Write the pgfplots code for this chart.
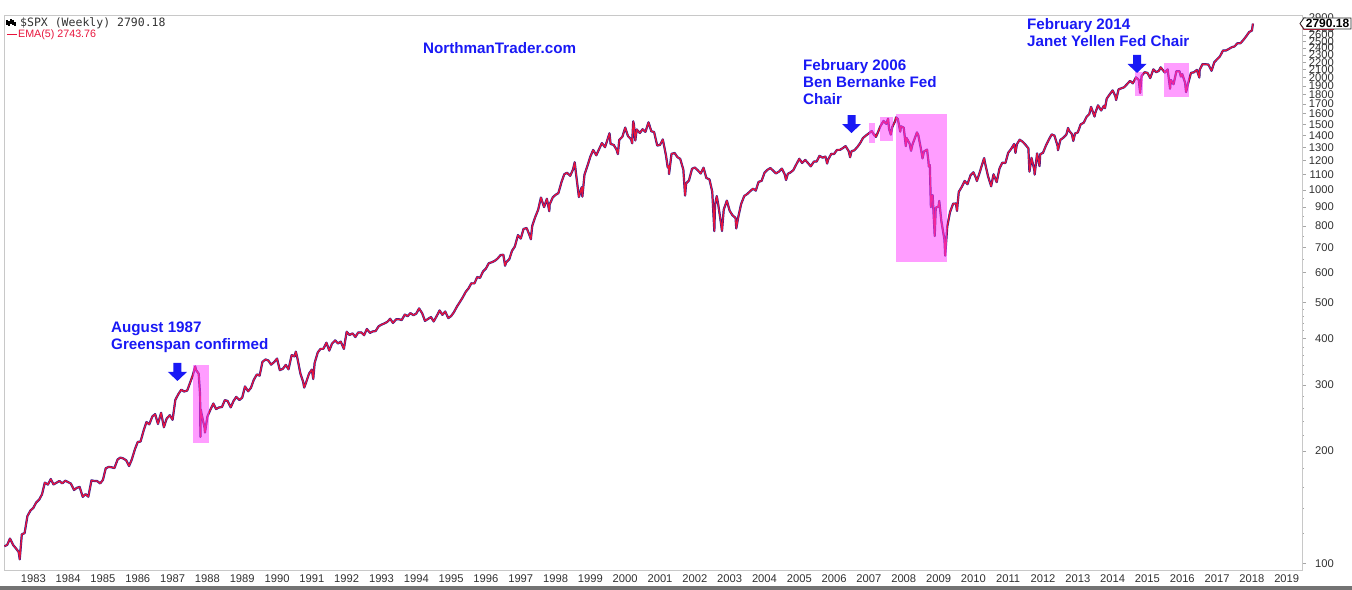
\documentclass[border=0pt]{standalone}
\usepackage{pgfplots}
\usepackage{pgfplotstable}
\pgfplotsset{compat=1.18}
\usepackage{fontspec}
\setmainfont{Liberation Sans}
\newfontfamily\monofont{DejaVu Sans Mono}
\definecolor{annblue}{RGB}{25,25,245}
\definecolor{pxblue}{RGB}{30,30,150}
\definecolor{emared}{RGB}{232,20,60}
\definecolor{hl}{RGB}{255,60,255}
\definecolor{axgray}{RGB}{200,200,200}
\definecolor{lblgray}{RGB}{50,50,50}

\pgfplotstableread{
t v
1982.17 111.0
1982.25 111.96
1982.33 116.4
1982.42 111.9
1982.50 109.6
1982.58 107.1
1982.61 102.4
1982.67 119.5
1982.75 120.4
1982.83 133.7
1982.92 138.5
1983.00 140.6
1983.08 145.3
1983.17 148.1
1983.25 152.96
1983.33 164.4
1983.42 162.4
1983.50 168.1
1983.58 162.6
1983.67 164.4
1983.75 166.1
1983.83 163.6
1983.92 166.4
1984.00 164.9
1984.08 163.4
1984.17 157.1
1984.25 159.2
1984.33 160.1
1984.42 150.6
1984.50 153.2
1984.58 150.7
1984.67 166.7
1984.75 166.1
1984.83 166.1
1984.92 163.6
1985.00 167.2
1985.08 179.6
1985.17 181.2
1985.25 180.7
1985.33 179.8
1985.42 189.6
1985.50 191.9
1985.58 190.9
1985.67 188.6
1985.75 182.1
1985.83 189.8
1985.92 202.2
1986.00 211.3
1986.08 211.8
1986.17 226.9
1986.25 238.9
1986.33 235.5
1986.42 247.4
1986.50 250.8
1986.58 236.1
1986.67 252.9
1986.75 231.3
1986.83 244.0
1986.92 249.2
1987.00 242.2
1987.08 274.1
1987.17 284.2
1987.25 291.7
1987.33 288.4
1987.42 290.1
1987.50 304.0
1987.58 318.7
1987.65 336.8
1987.67 329.8
1987.75 321.8
1987.79 282.7
1987.80 218.0
1987.81 258.4
1987.83 251.8
1987.92 230.3
1987.93 223.9
1988.00 247.1
1988.08 257.1
1988.17 267.8
1988.25 258.9
1988.33 261.3
1988.42 262.2
1988.50 273.5
1988.58 272.0
1988.67 261.5
1988.75 271.9
1988.83 279.0
1988.92 273.7
1989.00 277.7
1989.08 297.5
1989.17 288.9
1989.25 294.9
1989.33 309.6
1989.42 320.5
1989.50 318.0
1989.58 346.1
1989.67 351.5
1989.75 349.2
1989.83 340.4
1989.92 346.0
1990.00 353.4
1990.08 329.1
1990.17 331.9
1990.25 339.9
1990.33 330.8
1990.42 361.2
1990.50 358.0
1990.54 368.9
1990.58 356.2
1990.67 322.6
1990.75 306.1
1990.78 295.5
1990.83 304.0
1990.92 322.2
1991.00 330.2
1991.04 311.5
1991.08 343.9
1991.17 367.1
1991.25 375.2
1991.33 375.3
1991.42 389.8
1991.50 371.2
1991.58 387.8
1991.67 395.4
1991.75 387.9
1991.83 392.5
1991.92 375.2
1992.00 417.1
1992.08 408.8
1992.17 412.7
1992.25 403.7
1992.33 415.0
1992.42 415.4
1992.50 408.1
1992.58 424.2
1992.67 414.0
1992.75 417.8
1992.83 418.7
1992.92 431.4
1993.00 435.7
1993.08 438.8
1993.17 443.4
1993.25 451.7
1993.33 440.2
1993.42 450.2
1993.50 450.5
1993.58 448.1
1993.67 463.6
1993.75 458.9
1993.83 467.8
1993.92 461.8
1994.00 466.5
1994.08 481.6
1994.17 467.1
1994.25 445.8
1994.33 450.9
1994.42 456.5
1994.50 444.3
1994.58 458.3
1994.67 475.5
1994.75 462.7
1994.83 472.4
1994.92 453.7
1995.00 459.3
1995.08 470.4
1995.17 487.4
1995.25 500.7
1995.33 514.7
1995.42 533.4
1995.50 544.8
1995.58 562.1
1995.67 561.9
1995.75 584.4
1995.83 581.5
1995.92 605.4
1996.00 615.9
1996.08 636.0
1996.17 640.4
1996.25 645.5
1996.33 654.2
1996.42 669.1
1996.50 670.6
1996.55 626.7
1996.58 640.0
1996.67 652.0
1996.75 687.3
1996.83 705.3
1996.92 757.0
1997.00 740.7
1997.08 786.2
1997.17 790.8
1997.25 757.1
1997.29 737.7
1997.33 801.3
1997.42 848.3
1997.50 885.1
1997.58 954.3
1997.67 899.5
1997.75 947.3
1997.82 877.0
1997.83 914.6
1997.92 955.4
1998.00 970.4
1998.08 980.3
1998.17 1049.3
1998.25 1101.8
1998.33 1111.8
1998.42 1090.8
1998.50 1133.8
1998.55 1186.8
1998.58 1120.7
1998.67 957.3
1998.75 1017.0
1998.77 959.4
1998.83 1098.7
1998.92 1163.6
1999.00 1229.2
1999.08 1279.6
1999.17 1238.3
1999.25 1286.4
1999.33 1335.2
1999.42 1301.8
1999.50 1372.7
1999.55 1418.8
1999.58 1328.7
1999.67 1320.4
1999.75 1282.7
1999.79 1247.4
1999.83 1362.9
1999.92 1388.9
2000.00 1469.3
2000.08 1394.5
2000.17 1366.4
2000.20 1333.4
2000.23 1527.5
2000.25 1498.6
2000.29 1356.6
2000.33 1452.4
2000.42 1420.6
2000.50 1454.6
2000.58 1430.8
2000.67 1517.7
2000.75 1436.5
2000.83 1429.4
2000.92 1315.0
2001.00 1320.3
2001.08 1366.0
2001.17 1239.9
2001.22 1150.5
2001.25 1160.3
2001.26 1103.3
2001.33 1249.5
2001.42 1255.8
2001.50 1224.4
2001.58 1211.2
2001.67 1133.6
2001.72 965.8
2001.75 1040.9
2001.83 1059.8
2001.92 1139.5
2002.00 1148.1
2002.08 1130.2
2002.17 1106.7
2002.25 1147.4
2002.33 1076.9
2002.42 1067.1
2002.50 989.8
2002.56 776.0
2002.58 911.6
2002.63 962.7
2002.67 916.1
2002.75 815.3
2002.78 776.8
2002.83 885.8
2002.92 936.3
2003.00 879.8
2003.08 855.7
2003.17 841.2
2003.19 788.9
2003.25 848.2
2003.33 916.9
2003.42 963.6
2003.50 974.5
2003.58 990.3
2003.67 1008.0
2003.75 996.0
2003.83 1050.7
2003.92 1058.2
2004.00 1111.9
2004.08 1131.1
2004.17 1144.9
2004.25 1126.2
2004.33 1107.3
2004.42 1120.7
2004.50 1140.8
2004.58 1101.7
2004.62 1063.2
2004.67 1104.2
2004.75 1114.6
2004.83 1130.2
2004.92 1173.8
2005.00 1211.9
2005.08 1181.3
2005.17 1203.6
2005.25 1180.6
2005.33 1156.9
2005.42 1191.5
2005.50 1191.3
2005.58 1234.2
2005.67 1220.3
2005.75 1228.8
2005.80 1177.0
2005.83 1207.0
2005.92 1249.5
2006.00 1248.3
2006.08 1280.1
2006.17 1280.7
2006.25 1294.8
2006.33 1310.6
2006.42 1270.1
2006.46 1223.7
2006.50 1270.2
2006.58 1276.7
2006.67 1303.8
2006.75 1335.9
2006.83 1377.9
2006.92 1400.6
2007.00 1418.3
2007.08 1438.2
2007.16 1399.0
2007.17 1406.8
2007.20 1387.0
2007.25 1420.9
2007.33 1482.4
2007.42 1530.6
2007.50 1503.4
2007.55 1553.0
2007.58 1455.3
2007.63 1406.7
2007.67 1474.0
2007.75 1526.8
2007.78 1565.2
2007.83 1549.4
2007.90 1433.0
2007.92 1481.1
2008.00 1468.4
2008.06 1310.5
2008.08 1378.6
2008.17 1330.6
2008.21 1273.4
2008.25 1322.7
2008.33 1385.6
2008.38 1426.6
2008.42 1400.4
2008.50 1280.0
2008.54 1214.9
2008.58 1267.4
2008.67 1282.8
2008.71 1192.0
2008.72 1156.0
2008.75 1166.4
2008.78 899.2
2008.79 946.0
2008.83 968.8
2008.89 752.4
2008.92 896.2
2009.00 903.3
2009.02 934.7
2009.08 825.9
2009.17 735.1
2009.19 666.8
2009.25 797.9
2009.33 872.8
2009.42 919.1
2009.50 919.3
2009.53 879.0
2009.58 987.5
2009.67 1020.6
2009.75 1057.1
2009.83 1036.2
2009.92 1095.6
2010.00 1115.1
2010.08 1073.9
2010.10 1056.7
2010.17 1104.5
2010.25 1169.4
2010.31 1217.0
2010.33 1186.7
2010.42 1089.4
2010.50 1030.7
2010.51 1022.6
2010.58 1101.6
2010.67 1049.3
2010.75 1141.2
2010.83 1183.3
2010.92 1180.6
2011.00 1257.6
2011.08 1286.1
2011.17 1327.2
2011.21 1256.9
2011.25 1325.8
2011.33 1363.6
2011.42 1345.2
2011.50 1320.6
2011.58 1292.3
2011.61 1119.5
2011.67 1218.9
2011.75 1131.4
2011.76 1099.2
2011.83 1253.3
2011.90 1158.7
2011.92 1247.0
2012.00 1257.6
2012.08 1312.4
2012.17 1365.7
2012.25 1408.5
2012.33 1397.9
2012.42 1310.3
2012.43 1278.0
2012.50 1362.2
2012.58 1379.3
2012.67 1406.6
2012.72 1465.8
2012.75 1440.7
2012.83 1412.2
2012.87 1353.3
2012.92 1416.2
2013.00 1426.2
2013.08 1498.1
2013.17 1514.7
2013.25 1569.2
2013.33 1597.6
2013.38 1669.2
2013.42 1630.7
2013.48 1573.0
2013.50 1606.3
2013.58 1685.7
2013.67 1633.0
2013.75 1681.6
2013.78 1655.5
2013.83 1756.5
2013.92 1805.8
2014.00 1848.4
2014.08 1782.6
2014.10 1741.9
2014.17 1859.5
2014.25 1872.3
2014.33 1884.0
2014.42 1923.6
2014.50 1960.2
2014.58 1930.7
2014.67 2003.4
2014.75 1972.3
2014.79 1820.0
2014.83 2018.1
2014.92 2067.6
2015.00 2058.9
2015.08 1995.0
2015.17 2104.5
2015.25 2067.9
2015.33 2085.5
2015.38 2130.8
2015.42 2107.4
2015.50 2063.1
2015.58 2103.8
2015.65 1867.6
2015.67 1972.2
2015.75 1920.0
2015.83 2079.4
2015.92 2080.4
2015.96 2012.4
2016.00 2043.9
2016.08 1940.2
2016.11 1829.1
2016.17 1932.2
2016.25 2059.7
2016.33 2065.3
2016.42 2097.0
2016.49 2000.5
2016.50 2098.9
2016.58 2173.6
2016.67 2171.0
2016.75 2168.3
2016.84 2085.2
2016.92 2198.8
2017.00 2238.8
2017.08 2278.9
2017.17 2363.6
2017.25 2362.7
2017.33 2384.2
2017.42 2411.8
2017.50 2423.4
2017.58 2470.3
2017.67 2471.7
2017.75 2519.4
2017.83 2575.3
2017.92 2647.6
2018.00 2673.6
2018.03 2790.2
}\spx

\begin{document}
\begin{tikzpicture}
\useasboundingbox (-4bp,-20bp) rectangle (1348bp,570bp);
\begin{axis}[
  at={(0,0)}, anchor=south west, scale only axis,
  width=1298bp, height=555bp,
  xmin=1982.158, xmax=2019.439,
  ymode=log, ymin=95.9, ymax=2943,
  axis line style={axgray, line width=0.8bp},
  xtick={1983,1984,1985,1986,1987,1988,1989,1990,1991,1992,1993,1994,1995,1996,1997,1998,1999,2000,2001,2002,2003,2004,2005,2006,2007,2008,2009,2010,2011,2012,2013,2014,2015,2016,2017,2018,2019},
  xticklabels={1983,1984,1985,1986,1987,1988,1989,1990,1991,1992,1993,1994,1995,1996,1997,1998,1999,2000,2001,2002,2003,2004,2005,2006,2007,2008,2009,2010,2011,2012,2013,2014,2015,2016,2017,2018,2019},
  xtick style={draw=none},
  xticklabel style={font=\fontsize{11.2bp}{13bp}\selectfont, text=lblgray, inner sep=0pt, anchor=north, yshift=0bp},
  ytick={100,200,300,400,500,600,700,800,900,1000,1100,1200,1300,1400,1500,1600,1700,1800,1900,2000,2100,2200,2300,2400,2500,2600,2700,2800,2900},
  yticklabels={100,200,300,400,500,600,700,800,900,1000,1100,1200,1300,1400,1500,1600,1700,1800,1900,2000,2100,2200,2300,2400,2500,2600,2700,2800,2900},
  minor ytick={120,140,160,180,220,240,260,280,320,340,360,380,420,440,460,480,550,650,750,850,950},
  ytick pos=right,
  yticklabel pos=right,
  yticklabel style={font=\fontsize{11.2bp}{13bp}\selectfont, text=lblgray, inner sep=0pt, anchor=east, xshift=28bp},
  ytick style={gray!70, line width=0.6bp},
  minor tick style={gray!50, line width=0.5bp},
  tick align=outside, major tick length=4bp, minor tick length=2bp,
]
\addplot[pxblue, line width=2.2bp, line join=round] table[x=t,y=v]{\spx};
\addplot[emared, line width=1.3bp, line join=round] table[x=t,y=v]{\spx};
\coordinate (r1a) at (axis cs:1987.587,210.1);
\coordinate (r1b) at (axis cs:1988.046,339.8);
\coordinate (r2a) at (axis cs:2007.003,1336);
\coordinate (r2b) at (axis cs:2007.175,1512);
\coordinate (r3a) at (axis cs:2007.319,1353);
\coordinate (r3b) at (axis cs:2007.692,1569);
\coordinate (r4a) at (axis cs:2007.778,641.5);
\coordinate (r4b) at (axis cs:2009.243,1598);
\coordinate (r5a) at (axis cs:2014.643,1786);
\coordinate (r5b) at (axis cs:2014.873,2071);
\coordinate (r6a) at (axis cs:2015.476,1775);
\coordinate (r6b) at (axis cs:2016.194,2189);
\coordinate (a1) at (axis cs:1987.14,307.8);
\coordinate (a2) at (axis cs:2006.50,1421);
\coordinate (a3) at (axis cs:2014.70,2058);
\end{axis}
\foreach \n in {1,...,6}
  \fill[hl, fill opacity=0.5] (r\n a) rectangle (r\n b);
\foreach \n in {1,2,3}
  \fill[annblue] (a\n) -- ++(-9.5bp,9bp) -- ++(5.5bp,0) -- ++(0,9bp) -- ++(8bp,0) -- ++(0,-9bp) -- ++(5.5bp,0) -- cycle;
\tikzset{ann/.style={anchor=base west, inner sep=0pt, text=annblue, font=\fontsize{15.2bp}{17bp}\selectfont\bfseries}}
\node[ann] at (107bp,237.7bp) {August 1987};
\node[ann] at (107bp,220.7bp) {Greenspan confirmed};
\node[ann] at (419bp,516bp) {NorthmanTrader.com};
\node[ann] at (799bp,499.3bp) {February 2006};
\node[ann] at (799bp,482.3bp) {Ben Bernanke Fed};
\node[ann] at (799bp,465bp) {Chair};
\node[ann] at (1023bp,540bp) {February 2014};
\node[ann] at (1023bp,523.7bp) {Janet Yellen Fed Chair};
% legend
\foreach \x/\a/\b in {3/545/550,5/544/549,7/546/551,9/545/550,11/544/548}
  \draw[black, line width=1.2bp] (\x bp,\a bp) -- (\x bp,\b bp);
\node[anchor=base west, inner sep=0pt, text=black!80, font=\monofont\fontsize{11.5bp}{13bp}\selectfont] at (16bp,543bp) {\$SPX (Weekly) 2790.18};
\draw[emared, line width=1.6bp] (3bp,535.5bp) -- (13bp,535.5bp);
\node[anchor=base west, inner sep=0pt, text=emared, font=\fontsize{10.7bp}{12bp}\selectfont] at (14bp,532bp) {EMA(5) 2743.76};
% value tag
\draw[emared, line width=1bp] (1296bp,546.5bp) -- (1300bp,540.5bp) -- (1330bp,540.5bp);
\filldraw[fill=white, draw=black!85, line width=0.8bp] (1296bp,546.5bp) -- (1300bp,552bp) -- (1347bp,552bp) -- (1347bp,541bp) -- (1300bp,541bp) -- cycle;
\node[inner sep=0pt, font=\fontsize{12bp}{13bp}\selectfont\bfseries] at (1323.5bp,546.5bp) {2790.18};
% bottom bar
\fill[black!55] (-4bp,-20bp) rectangle (1348bp,-16bp);
\end{tikzpicture}
\end{document}
